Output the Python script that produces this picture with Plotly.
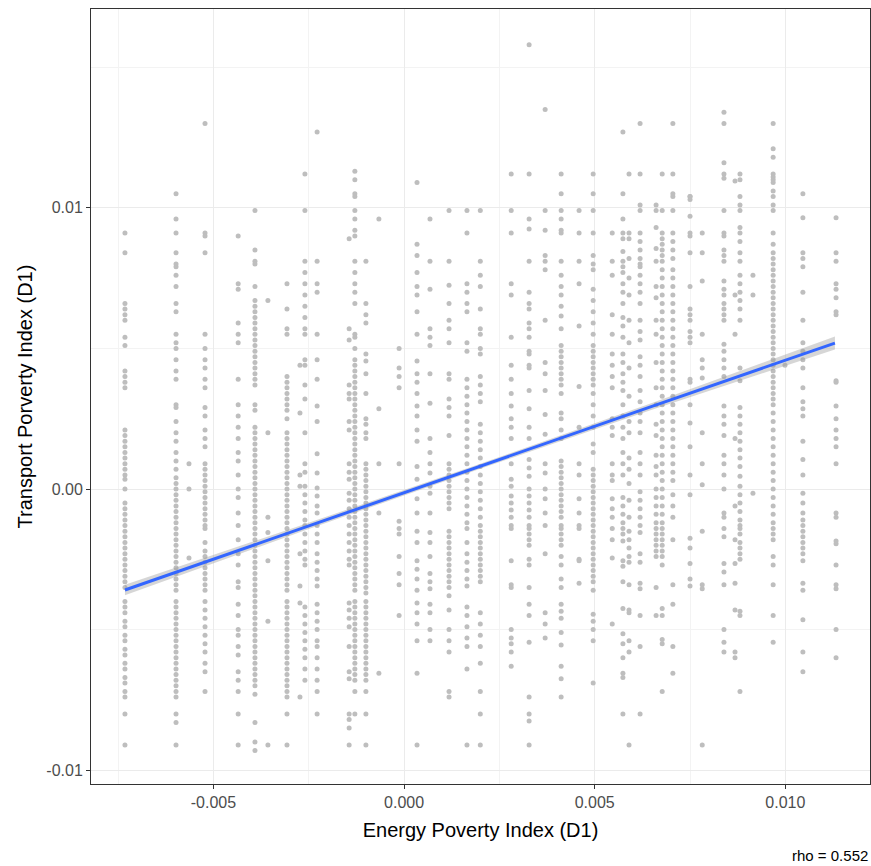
import plotly.graph_objects as go

SCALE = 1e-3

col_x = [-7.32, -5.98, -5.64, -5.22, -4.35, -3.91, -3.57, -3.07, -2.73, -2.60,
         -2.28, -1.44, -1.29, -1.00, -0.66, -0.13, 0.34, 0.68, 1.18, 1.65,
         2.00, 2.81, 3.28, 3.70, 4.12, 4.59, 4.96, 5.46, 5.74, 5.90,
         6.19, 6.61, 6.77, 7.05, 7.50, 7.82, 8.39, 8.68, 8.81, 9.15,
         9.68, 9.99, 10.46, 11.33]

col01 = [9.1, 8.4, 6.6, 6.4, 6.2, 6.0, 5.4, 5.1, 4.2, 4.0, 3.8, 3.6, 2.1, 1.9, 1.7, 1.5, 1.3, 1.1, 0.9, 0.7, 0.5, 0.35, 0.0, -0.5, -0.7, -0.9, -1.1, -1.3, -1.5, -1.7, -1.9, -2.1, -2.3, -2.5, -2.7, -2.9, -3.1, -3.3, -3.5, -4.0, -4.2, -4.4, -4.7, -4.9, -5.2, -5.4, -5.7, -5.9, -6.2, -6.4, -6.7, -6.9, -7.2, -7.4, -8.0, -9.1]
col02 = [10.5, 9.6, 9.1, 8.4, 8.0, 7.9, 7.6, 7.2, 6.6, 6.3, 5.5, 5.2, 5.0, 4.6, 4.2, 3.9, 3.0, 2.9, 2.4, 2.0, 1.7, 1.3, 1.0, 0.7, 0.4, 0.2, 0.0, -0.2, -0.4, -0.6, -0.8, -1.0, -1.2, -1.4, -1.6, -1.8, -2.0, -2.2, -2.4, -2.6, -2.8, -3.0, -3.2, -3.4, -3.6, -4.0, -4.2, -4.4, -4.6, -4.8, -5.0, -5.2, -5.4, -5.6, -5.8, -6.0, -6.2, -6.4, -6.6, -6.8, -7.0, -7.2, -7.4, -8.0, -8.3, -9.1]
col03 = [0.9, 0.0, -2.45]
col04 = [13.0, 9.1, 9.0, 8.4, 5.5, 5.0, 4.6, 4.3, 3.9, 3.6, 2.9, 2.6, 2.1, 1.8, 1.5, 0.9, 0.7, 0.5, 0.3, 0.1, -0.1, -0.3, -0.5, -0.7, -0.9, -1.1, -1.3, -1.4, -1.9, -2.2, -2.4, -2.6, -2.8, -3.0, -3.2, -3.4, -3.6, -4.0, -4.3, -4.6, -4.9, -5.2, -5.5, -5.8, -6.2, -6.5, -7.2]
col05 = [9.0, 7.3, 7.1, 5.9, 5.5, 5.2, 3.9, 3.0, 2.6, 2.2, 1.8, 1.3, 1.0, 0.5, 0.0, -0.3, -0.85, -1.3, -1.8, -2.3, -2.7, -3.3, -3.5, -4.1, -4.5, -5.0, -5.2, -5.6, -5.9, -6.5, -6.8, -7.2, -8.0, -9.1]
col06 = [9.9, 8.5, 8.1, 8.0, 7.2, 6.7, 6.5, 6.3, 6.1, 5.9, 5.7, 5.5, 5.3, 5.1, 4.9, 4.7, 4.5, 4.3, 4.1, 3.9, 3.7, 3.0, 2.8, 2.2, 2.0, 1.8, 1.6, 1.4, 1.2, 1.0, 0.8, 0.6, 0.4, 0.2, 0.0, -0.2, -0.4, -0.6, -0.8, -1.0, -1.2, -1.4, -1.6, -1.8, -2.0, -2.2, -2.4, -2.6, -2.8, -3.0, -3.2, -3.4, -3.6, -3.8, -4.0, -4.2, -4.4, -4.6, -4.8, -5.0, -5.2, -5.4, -5.6, -5.8, -6.0, -6.2, -6.4, -6.6, -6.8, -7.0, -7.3, -8.3, -9.0, -9.3]
col07 = [6.7, 2.0, -1.0, -1.55, -2.55, -4.7, -9.1]
col08 = [7.3, 6.4, 5.7, 5.5, 4.0, 3.8, 3.6, 3.4, 3.2, 3.0, 2.8, 2.5, 2.0, 1.8, 1.6, 1.4, 1.2, 1.0, 0.8, 0.6, 0.4, 0.2, 0.0, -0.2, -0.4, -0.6, -0.8, -1.0, -1.2, -1.4, -1.6, -1.8, -2.0, -2.2, -2.4, -2.6, -2.8, -3.0, -3.2, -3.4, -3.6, -4.0, -4.2, -4.4, -4.6, -4.8, -5.0, -5.2, -5.4, -5.6, -5.8, -6.0, -6.2, -6.4, -6.6, -6.8, -7.0, -7.2, -7.4, -8.0, -9.1]
col09 = [4.4, 2.7, 0.5, 0.1, -2.3, -3.45, -4.05, -7.4]
col10 = [11.2, 9.9, 8.1, 7.7, 7.3, 6.9, 6.5, 6.1, 5.7, 5.5, 4.6, 4.4, 3.7, 3.2, 2.0, 0.9, 0.6, 0.1, -0.2, -0.5, -0.8, -1.1, -1.3, -1.6, -1.9, -2.2, -2.5, -2.7, -4.2, -4.5, -4.8, -5.1, -5.4, -5.7, -6.0, -6.4, -6.8]
col11 = [12.7, 8.1, 7.3, 7.0, 5.5, 4.6, 3.9, 2.95, 2.4, 1.25, 0.57, 0.04, -0.25, -0.6, -0.85, -1.3, -1.6, -1.9, -2.3, -2.6, -2.9, -3.2, -3.45, -4.1, -4.4, -4.7, -5.0, -5.4, -5.6, -6.0, -6.4, -6.8, -7.2, -8.0]
col12 = [8.9, 5.7, 5.3, 3.7, 3.4, 3.2, 2.4, 2.1, 0.9, 0.6, 0.35, -0.15, -0.4, -0.7, -1.0, -1.3, -1.6, -1.9, -2.2, -2.5, -2.7, -4.05, -4.3, -4.6, -4.9, -5.6, -6.5, -6.75, -8.0, -8.2, -8.5, -9.1]
col13 = [11.3, 11.0, 10.5, 10.4, 9.9, 9.6, 9.2, 9.0, 8.1, 7.7, 7.3, 7.0, 6.6, 5.5, 5.4, 5.0, 4.6, 4.4, 4.2, 4.0, 3.8, 3.6, 3.4, 3.2, 3.0, 2.8, 2.6, 2.4, 2.2, 2.0, 1.8, 1.6, 1.4, 1.2, 1.0, 0.8, 0.6, 0.4, 0.2, 0.0, -0.2, -0.4, -0.6, -0.8, -1.0, -1.2, -1.4, -1.6, -1.8, -2.0, -2.2, -2.4, -2.6, -2.8, -3.0, -3.2, -3.4, -3.6, -4.0, -4.2, -4.4, -4.6, -4.8, -5.0, -5.2, -5.4, -5.6, -5.8, -6.0, -6.2, -6.4, -6.6, -6.8, -7.2, -8.0]
col14 = [8.1, 6.6, 6.2, 5.9, 4.8, 4.55, 4.1, 3.4, 2.5, 2.3, 2.0, 1.8, 0.9, 0.7, 0.5, 0.3, 0.1, -0.1, -0.3, -0.5, -0.7, -0.9, -1.1, -1.3, -1.5, -1.7, -1.9, -2.1, -2.3, -2.5, -2.7, -2.9, -3.1, -3.3, -3.5, -3.7, -4.0, -4.2, -4.4, -4.6, -4.8, -5.0, -5.2, -5.4, -5.6, -5.8, -6.0, -6.2, -6.4, -6.6, -6.8, -7.2, -8.0, -9.1]
col15 = [9.6, 2.85, 0.9, -0.85, -6.55]
col16 = [5.0, 4.3, 4.0, 3.6, 0.9, -1.15, -1.4, -1.6, -2.4, -3.0, -3.4, -4.5]
col17 = [10.9, 8.7, 8.3, 7.7, 7.2, 6.9, 6.3, 5.5, 4.55, 4.1, 3.8, 3.4, 2.95, 2.6, 2.1, 1.7, 0.8, 0.35, -0.35, -0.85, -1.5, -1.9, -2.55, -2.85, -3.2, -3.6, -4.05, -4.4, -4.8, -5.4, -6.55, -9.1]
col18 = [9.6, 8.1, 7.1, 5.7, 5.4, 5.1, 4.1, 3.05, 1.8, 1.3, 0.9, 0.57, 0.1, -0.15, -0.85, -1.55, -1.9, -2.4, -3.0, -3.3, -3.55, -4.1, -4.4, -5.0, -5.4]
col19 = [9.9, 8.1, 7.25, 6.6, 6.0, 5.7, 5.2, 4.1, 3.9, 3.2, 2.9, 2.6, 1.9, 0.9, 0.7, 0.5, 0.3, 0.1, -0.1, -0.3, -0.5, -0.7, -1.5, -1.7, -1.9, -2.1, -2.3, -2.5, -2.7, -2.9, -3.1, -3.3, -3.5, -3.8, -4.3, -5.0, -5.4, -5.8, -7.2, -7.4]
col20 = [9.9, 9.1, 7.3, 7.0, 6.6, 6.3, 5.2, 4.9, 3.9, 3.6, 3.3, 3.0, 2.7, 2.4, 2.1, 1.8, 1.5, 1.2, 0.9, 0.6, 0.3, 0.0, -0.3, -0.6, -0.9, -1.2, -1.4, -1.9, -2.3, -2.6, -2.9, -3.2, -3.45, -4.2, -4.5, -4.9, -5.3, -5.6, -6.4, -9.1]
col21 = [9.9, 8.1, 7.6, 7.2, 6.4, 5.7, 5.5, 5.0, 4.8, 4.0, 3.7, 3.4, 3.1, 2.3, 2.0, 1.7, 1.4, 1.1, 0.8, 0.5, 0.2, -0.1, -0.4, -0.7, -1.0, -1.3, -1.5, -1.7, -1.9, -2.1, -2.3, -2.5, -2.7, -2.9, -3.1, -3.3, -4.4, -4.8, -5.2, -5.6, -6.2, -7.2, -8.0, -9.1]
col22 = [11.2, 9.9, 9.1, 7.3, 6.9, 5.4, 4.4, 3.9, 3.4, 2.95, 2.5, 2.2, 1.8, 0.9, 0.35, 0.1, -0.25, -0.5, -0.75, -1.0, -1.3, -1.4, -2.55, -3.4, -3.5, -5.0, -5.3, -5.5, -5.8, -6.3]
col23 = [15.8, 11.2, 9.6, 9.25, 8.1, 7.0, 6.6, 6.4, 5.9, 5.7, 5.4, 4.9, 4.8, 4.4, 4.3, 3.5, 2.85, 2.2, 1.8, 1.05, 0.75, 0.45, 0.0, -0.25, -0.5, -0.75, -1.0, -1.3, -1.4, -1.6, -1.8, -2.0, -2.5, -2.7, -3.5, -4.1, -4.5, -5.45, -7.4, -8.0, -8.25, -9.1]
col24 = [13.5, 9.9, 9.2, 8.3, 8.1, 7.8, 6.0, 4.5, 4.1, 3.5, 2.65, 1.95, 0.9, 0.57, 0.0, -0.35, -0.85, -1.3, -2.3, -4.4, -4.8, -5.3]
col25 = [11.2, 10.5, 9.9, 9.6, 9.2, 9.1, 8.1, 7.6, 7.2, 6.9, 6.5, 6.15, 5.7, 5.1, 4.9, 4.7, 4.5, 4.3, 4.1, 3.9, 3.7, 3.4, 2.7, 2.5, 2.1, 1.8, 1.0, 0.8, 0.6, 0.4, 0.2, 0.0, -0.2, -0.4, -0.6, -0.8, -1.0, -1.3, -1.4, -1.6, -1.8, -2.0, -2.4, -2.7, -3.2, -3.5, -4.1, -4.35, -4.6, -5.1, -5.55, -6.3, -6.75, -7.4]
col26 = [9.9, 9.1, 8.1, 7.3, 5.8, 3.65, 2.2, 0.9, 0.5, -0.35, -0.85, -1.3, -1.4, -2.5, -2.55, -3.35]
col27 = [11.2, 10.5, 9.9, 9.1, 8.3, 8.0, 7.8, 7.1, 6.7, 6.3, 5.9, 5.5, 5.1, 4.9, 4.7, 4.5, 4.3, 4.1, 3.9, 3.7, 3.4, 3.0, 2.6, 2.2, 1.6, 1.3, 0.7, 0.5, 0.3, 0.1, -0.1, -0.3, -0.5, -0.7, -0.9, -1.1, -1.3, -1.5, -1.7, -1.9, -2.1, -2.3, -2.5, -2.7, -2.9, -3.1, -3.3, -3.6, -4.45, -4.7, -5.0, -5.4, -6.9]
col28 = [9.1, 8.1, 7.6, 6.2, 5.5, 4.8, 4.4, 4.0, 3.6, 2.5, 2.2, 1.9, 0.9, 0.5, 0.3, -0.35, -0.7, -1.0, -1.4, -1.8, -2.45, -4.8]
col29 = [12.7, 10.5, 9.6, 9.1, 8.9, 8.45, 8.1, 7.9, 7.7, 7.3, 7.0, 6.6, 6.1, 5.8, 5.4, 4.8, 4.5, 4.1, 3.8, 3.5, 3.0, 2.6, 2.2, 1.8, 1.3, 0.9, 0.5, -0.3, -0.6, -0.9, -1.2, -1.4, -1.6, -1.85, -2.55, -2.75, -3.3, -4.25, -5.15, -5.5, -6.0, -6.55, -6.7, -8.0]
col30 = [11.2, 9.1, 8.9, 8.2, 7.5, 6.9, 6.0, 5.2, 4.3, 3.3, 2.4, 2.0, 1.1, 0.7, 0.2, -0.4, -1.0, -1.5, -1.8, -2.1, -2.4, -2.6, -3.4, -4.3, -4.4, -5.4, -5.8, -9.1]
col31 = [13.0, 11.2, 10.1, 9.9, 9.1, 8.8, 8.5, 8.2, 8.0, 7.9, 7.6, 7.3, 7.0, 6.6, 6.0, 5.6, 5.3, 4.7, 4.4, 4.0, 3.5, 3.1, 2.7, 2.4, 2.0, 1.3, 0.9, 0.5, -0.1, -0.4, -0.7, -1.0, -1.3, -1.55, -2.3, -2.6, -3.35, -3.55, -4.5, -5.6, -8.0]
col32 = [10.1, 9.9, 9.3, 8.55, 8.1, 7.2, 6.8, 6.0, 5.5, 4.5, 3.6, 3.0, 2.3, 1.9, 1.2, 0.8, 0.5, 0.0, -0.3, -0.6, -0.9, -1.2, -1.4, -1.6, -1.8, -2.0, -2.2, -2.4, -3.5, -4.5]
col33 = [11.2, 9.9, 9.1, 8.9, 8.7, 8.5, 8.3, 8.1, 7.8, 7.5, 7.2, 6.9, 6.6, 6.3, 6.0, 5.7, 5.4, 5.1, 4.8, 4.5, 4.2, 3.9, 3.6, 3.3, 3.0, 2.7, 2.4, 2.1, 1.8, 1.5, 1.2, 0.9, 0.6, 0.3, 0.0, -0.3, -0.6, -0.9, -1.2, -1.4, -1.6, -1.8, -2.0, -2.2, -2.4, -2.7, -4.25, -4.5, -5.35, -5.5, -7.2]
col34 = [13.0, 11.2, 10.5, 10.4, 9.9, 9.1, 8.8, 8.5, 8.2, 7.8, 7.5, 7.2, 6.9, 6.6, 6.3, 6.0, 5.7, 5.4, 5.1, 4.8, 4.5, 4.2, 3.9, 3.6, 3.3, 3.0, 2.7, 2.4, 2.1, 1.8, 1.5, 1.2, 0.9, 0.6, 0.3, -0.2, -0.6, -1.0, -1.8, -3.4, -4.1, -5.6, -6.55]
col35 = [10.4, 10.4, 10.3, 9.7, 9.1, 9.0, 8.4, 7.2, 6.4, 6.2, 6.0, 5.6, 5.4, 5.2, 3.9, 3.8, 3.0, 2.35, 1.5, 0.5, -0.2, -1.75, -2.1, -2.65, -3.2, -3.45]
col36 = [9.1, 8.4, 7.4, 5.5, 4.6, 4.3, 3.95, 2.0, 0.9, 0.15, -1.5, -3.4, -3.55, -9.1]
col37 = [13.4, 13.0, 11.6, 11.2, 11.05, 9.9, 9.1, 9.0, 8.5, 8.3, 8.1, 7.4, 7.1, 6.9, 6.6, 6.4, 6.2, 6.0, 5.15, 4.9, 4.6, 4.3, 4.0, 2.95, 2.6, 2.3, 1.9, 1.2, 0.9, 0.5, 0.0, -0.85, -1.0, -1.4, -1.7, -2.65, -2.95, -3.4, -5.0, -5.45, -5.8]
col38 = [10.95, 6.9, 5.5, 1.8, -0.6, -1.8, -2.65, -3.35, -4.3, -5.8, -6.0]
col39 = [11.2, 11.0, 10.4, 10.1, 9.9, 9.3, 9.1, 8.8, 8.4, 8.1, 7.6, 7.3, 7.0, 6.7, 6.4, 6.0, 4.3, 3.85, 2.9, 2.6, 2.3, 2.0, 1.7, 1.4, 1.1, 0.8, 0.45, 0.1, -0.2, -0.5, -0.8, -1.1, -1.3, -1.4, -1.6, -1.9, -2.1, -2.3, -2.5, -4.35, -4.5, -7.2]
col40 = [7.6, 6.9, -0.15]
col41 = [13.0, 12.1, 11.8, 11.2, 11.1, 11.0, 10.9, 10.6, 10.4, 10.1, 9.9, 9.1, 8.7, 8.4, 8.2, 8.0, 7.8, 7.6, 7.4, 7.2, 7.0, 6.8, 6.6, 6.4, 6.2, 6.0, 5.8, 5.6, 5.4, 5.2, 5.0, 4.8, 4.6, 4.4, 4.2, 4.0, 3.8, 3.6, 3.4, 3.2, 3.0, 2.7, 2.4, 2.1, 1.8, 1.5, 1.2, 0.9, 0.6, 0.3, 0.0, -0.3, -0.6, -0.9, -1.2, -1.4, -1.6, -1.8, -2.4, -2.7, -3.4, -4.5, -5.45]
col42 = [4.4]
col43 = [10.5, 9.65, 8.4, 8.2, 7.9, 7.0, 6.0, 5.2, 4.9, 4.6, 4.3, 3.6, 3.1, 2.85, 2.6, 1.7, 1.05, 0.5, -0.15, -0.5, -0.85, -1.1, -1.3, -1.5, -1.7, -1.9, -2.1, -2.3, -2.55, -3.35, -3.6, -4.65, -5.8, -6.5]
col44 = [9.65, 8.4, 8.1, 7.3, 7.1, 6.8, 6.3, 6.2, 3.85, 3.8, 2.95, 2.5, 2.1, 1.8, 1.5, 0.9, -0.85, -1.0, -1.85, -1.95, -2.7, -3.4, -3.55, -5.0, -6.0]

columns = [col01, col02, col03, col04, col05, col06, col07, col08, col09, col10,
           col11, col12, col13, col14, col15, col16, col17, col18, col19, col20,
           col21, col22, col23, col24, col25, col26, col27, col28, col29, col30,
           col31, col32, col33, col34, col35, col36, col37, col38, col39, col40,
           col41, col42, col43, col44]

# fitted line (lm) and its confidence band
fit_x = [-7.32, -2.5, 2.0, 6.5, 11.30]
fit_y = [-3.59, -1.31, 0.81, 2.94, 5.19]
fit_half = [0.19, 0.11, 0.09, 0.12, 0.23]

x_ticks = [-0.005, 0.0, 0.005, 0.010]
x_labels = ["-0.005", "0.000", "0.005", "0.010"]
y_ticks = [-0.01, 0.0, 0.01]
y_labels = ["-0.01", "0.00", "0.01"]
x_minor = [-0.0075, -0.0025, 0.0025, 0.0075]
y_minor = [-0.005, 0.005, 0.015]

px, py = [], []
for xv, ys in zip(col_x, columns):
    for yv in ys:
        px.append(xv * SCALE)
        py.append(yv * SCALE)

fx = [v * SCALE for v in fit_x]
fy = [v * SCALE for v in fit_y]
upper = [(a + h) * SCALE for a, h in zip(fit_y, fit_half)]
lower = [(a - h) * SCALE for a, h in zip(fit_y, fit_half)]

fig = go.Figure()
fig.add_trace(go.Scatter(x=px, y=py, mode="markers",
                         marker=dict(size=5, color="#BEBEBE", line=dict(width=0)),
                         hoverinfo="skip", showlegend=False))
fig.add_trace(go.Scatter(x=fx + fx[::-1], y=upper + lower[::-1], mode="lines",
                         fill="toself", fillcolor="rgba(153,153,153,0.4)",
                         line=dict(width=0), hoverinfo="skip", showlegend=False))
fig.add_trace(go.Scatter(x=fx, y=fy, mode="lines",
                         line=dict(color="#3366FF", width=3),
                         hoverinfo="skip", showlegend=False))

font_family = "Liberation Sans, Arial, sans-serif"
axis_common = dict(showline=True, mirror=True, linecolor="#333333", linewidth=1,
                   showgrid=True, gridcolor="#EBEBEB", gridwidth=1.1,
                   zeroline=False, ticks="outside", ticklen=4, tickcolor="#333333",
                   tickwidth=1, automargin=False,
                   tickfont=dict(size=16, color="#4D4D4D", family=font_family))

fig.update_xaxes(range=[-0.00821, 0.01222], tickvals=x_ticks, ticktext=x_labels,
                 minor=dict(tickvals=x_minor, showgrid=True, gridcolor="#F3F3F3",
                            gridwidth=0.6, ticks=""),
                 title=dict(text="Energy Poverty Index (D1)", standoff=12,
                            font=dict(size=20, color="black", family=font_family)),
                 **axis_common)
fig.update_yaxes(range=[-0.01049, 0.01707], tickvals=y_ticks, ticktext=y_labels,
                 minor=dict(tickvals=y_minor, showgrid=True, gridcolor="#F3F3F3",
                            gridwidth=0.6, ticks=""),
                 title=dict(text="Transport Porverty Index (D1)", standoff=8,
                            font=dict(size=20, color="black", family=font_family)),
                 **axis_common)

fig.add_annotation(text="rho = 0.552", xref="paper", yref="paper", x=1, y=0,
                   xanchor="right", yanchor="middle", xshift=0, yshift=-71,
                   showarrow=False, font=dict(size=15, color="black", family=font_family))

fig.update_layout(width=871, height=866, plot_bgcolor="white", paper_bgcolor="white",
                  margin=dict(l=91, r=1, t=9, b=82), showlegend=False)

fig.write_html("out.html", config={"displayModeBar": False},
               post_script="document.body.style.margin='0';document.body.style.overflow='hidden';")
